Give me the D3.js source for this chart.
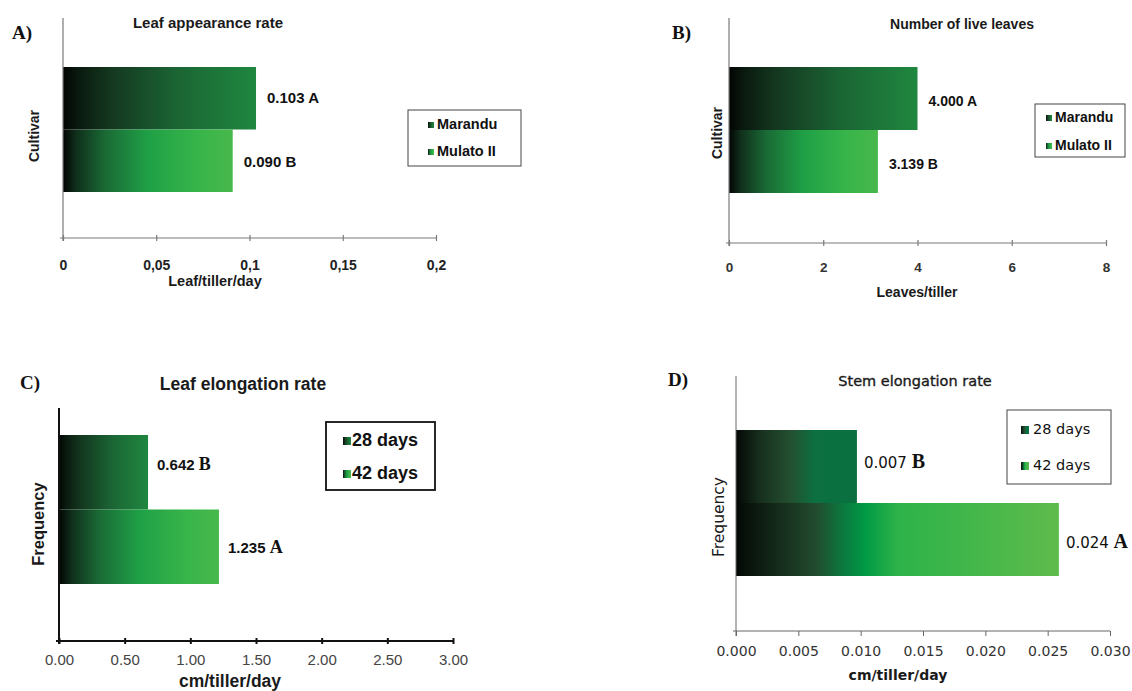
<!DOCTYPE html>
<html>
<head>
<meta charset="utf-8">
<script src="https://cdn.jsdelivr.net/npm/d3@7"></script>
<style>
  body { margin: 0; background: #fff; }
  svg { display: block; }
</style>
</head>
<body>
<div id="chart"></div>
<script>
'use strict';
// --- data ---
var cultivars = ['Marandu', 'Mulato II'];
var ages = ['28 days', '42 days'];

var appearanceRate = [0.1035, 0.091];
var appearanceLabels = [['0.103', 'A'], ['0.090', 'B']];
var appearanceTicks = [0, 0.05, 0.1, 0.15, 0.2];
var appearanceTickText = ['0', '0,05', '0,1', '0,15', '0,2'];

var liveLeaves = [4.0, 3.16];
var liveLeavesLabels = [['4.000', 'A'], ['3.139', 'B']];
var liveLeavesTicks = [0, 2, 4, 6, 8];

var leafElong = [0.678, 1.218];
var leafElongLabels = [['0.642', 'B'], ['1.235', 'A']];
var leafElongTicks = [0, 0.5, 1, 1.5, 2, 2.5, 3];

var stemElong = [0.0097, 0.0259];
var stemElongLabels = [['0.007', 'B'], ['0.024', 'A']];
var stemElongTicks = [0, 0.005, 0.01, 0.015, 0.02, 0.025, 0.03];

var width = 1132, height = 691;
var svg = d3.select('#chart').append('svg')
    .attr('width', width)
    .attr('height', height);
var defs = svg.append('defs');

// gradients: dark series and light series, two flavours (scan / office style)
function addGradient(id, stops) {
    var g = defs.append('linearGradient').attr('id', id)
        .attr('x1', '0%').attr('x2', '100%').attr('y1', '0%').attr('y2', '0%');
    stops.forEach(function (s) {
        g.append('stop').attr('offset', s[0]).attr('stop-color', s[1]);
    });
}
addGradient('darkA', [['0%', '#020403'], ['8%', '#0a1a0f'], ['25%', '#143820'], ['60%', '#1b6634'], ['100%', '#1f873f']]);
addGradient('lightA', [['0%', '#020403'], ['8%', '#10301c'], ['25%', '#1a6a35'], ['50%', '#1fa046'], ['80%', '#38b54a'], ['100%', '#48b84b']]);
addGradient('darkD', [['0%', '#040805'], ['20%', '#17301e'], ['45%', '#244f30'], ['65%', '#0c7040'], ['100%', '#0a7040']]);
addGradient('lightD', [['0%', '#040805'], ['15%', '#17301e'], ['25%', '#224c2e'], ['33%', '#0b783f'], ['40%', '#009a44'], ['50%', '#2db34a'], ['100%', '#5ebb4b']]);

var panels = [
    {
        letter: 'A)', letterX: 12, letterY: 39,
        title: 'Leaf appearance rate', titleX: 208, titleY: 24, titleSize: 15,
        series: cultivars, values: appearanceRate, labels: appearanceLabels,
        ticks: appearanceTicks, tickText: function (d, i) { return appearanceTickText[i]; },
        x0: 63, x1: 436, yTop: 18, yBottom: 238, barTop: 67, barBottom: 192,
        yTitle: 'Cultivar', yTitleX: 35, yTitleY: 136, yTitleSize: 14,
        xTitle: 'Leaf/tiller/day', xTitleX: 215, xTitleY: 282, xTitleSize: 14.5,
        font: 'Liberation Sans, Arial, sans-serif', bold: true, tickSize: 14, tickY: 265, tickColor: '#222',
        axisColor: '#7a7a7a', axisWidth: 1.2, tickUp: 3, tickDown: 3,
        labelSize: 15, labelDx: 11, letterFont: 'sans', labelSizeLetter: 15, labelDy: [1, 2],
        gradients: ['darkA', 'lightA'],
        legend: { x: 408, y: 110, w: 113, h: 56, rows: [125, 152], sw: 6, textX: 437, size: 14.5, swX: 428 }
    },
    {
        letter: 'B)', letterX: 672, letterY: 39,
        title: 'Number of live leaves', titleX: 962, titleY: 25, titleSize: 14,
        series: cultivars, values: liveLeaves, labels: liveLeavesLabels,
        ticks: liveLeavesTicks, tickText: d3.format('d'),
        x0: 729, x1: 1106, yTop: 18, yBottom: 243, barTop: 67, barBottom: 193,
        yTitle: 'Cultivar', yTitleX: 718, yTitleY: 133, yTitleSize: 14,
        xTitle: 'Leaves/tiller', xTitleX: 917, xTitleY: 293, xTitleSize: 14,
        font: 'Liberation Sans, Arial, sans-serif', bold: true, tickSize: 13.5, tickY: 267, tickColor: '#333',
        axisColor: '#7a7a7a', axisWidth: 1.2, tickUp: 3, tickDown: 3,
        labelSize: 14, labelDx: 11, letterFont: 'sans', labelSizeLetter: 14, labelDy: [3, 3],
        gradients: ['darkA', 'lightA'],
        legend: { x: 1035, y: 104, w: 90, h: 53, rows: [118, 146], sw: 6, textX: 1055, size: 14, swX: 1046 }
    },
    {
        letter: 'C)', letterX: 20, letterY: 389,
        title: 'Leaf elongation rate', titleX: 243, titleY: 385, titleSize: 17.5,
        series: ages, values: leafElong, labels: leafElongLabels,
        ticks: leafElongTicks, tickText: d3.format('.2f'),
        x0: 59, x1: 453, yTop: 408, yBottom: 641, barTop: 435, barBottom: 584,
        yTitle: 'Frequency', yTitleX: 40, yTitleY: 524, yTitleSize: 16.5,
        xTitle: 'cm/tiller/day', xTitleX: 230, xTitleY: 682, xTitleSize: 17.5,
        font: 'Liberation Sans, Arial, sans-serif', bold: true, tickSize: 15, tickBold: false, tickY: 660, tickColor: '#444',
        axisColor: '#111', axisWidth: 2, tickUp: 3, tickDown: 3,
        labelSize: 15, labelDx: 9, letterFont: 'serif', labelSizeLetter: 18, labelDy: [-6, 2],
        gradients: ['darkA', 'lightA'],
        legend: { x: 326, y: 422, w: 109, h: 68, rows: [441, 474], sw: 8, textX: 352, size: 18, swX: 343,
            font: 'Liberation Sans, Arial, sans-serif', stroke: '#111', strokeWidth: 1.8 }
    },
    {
        letter: 'D)', letterX: 668, letterY: 386,
        title: 'Stem elongation rate', titleX: 915, titleY: 382, titleSize: 14.5,
        series: ages, values: stemElong, labels: stemElongLabels,
        ticks: stemElongTicks, tickText: d3.format('.3f'),
        x0: 736, x1: 1110, yTop: 376, yBottom: 631, barTop: 430, barBottom: 576,
        yTitle: 'Frequency', yTitleX: 719, yTitleY: 517, yTitleSize: 15.5, titleBold: false,
        xTitle: 'cm/tiller/day', xTitleX: 898, xTitleY: 676, xTitleSize: 14,
        font: 'DejaVu Sans, Verdana, sans-serif', bold: false, tickSize: 14, tickY: 651, tickColor: '#333',
        axisColor: '#666', axisWidth: 1, tickUp: 0, tickDown: 5,
        labelSize: 15, labelDx: 7, letterFont: 'serif', labelSizeLetter: 20, labelDy: [-4, 3],
        gradients: ['darkD', 'lightD'],
        legend: { x: 1007, y: 410, w: 104, h: 74, rows: [430, 466], sw: 8, textX: 1033, size: 14.5, swX: 1021 }
    }
];

function drawPanel(p) {
    var g = svg.append('g').attr('class', 'panel');
    var weight = p.bold ? 'bold' : 'normal';

    var x = d3.scaleLinear()
        .domain([p.ticks[0], p.ticks[p.ticks.length - 1]])
        .range([p.x0, p.x1]);
    var y = d3.scaleBand()
        .domain(p.series)
        .range([p.barTop, p.barBottom])
        .paddingInner(0);

    // bars
    g.selectAll('rect.bar').data(p.values).enter()
        .append('rect')
        .attr('class', 'bar')
        .attr('x', x(0))
        .attr('y', function (d, i) { return y(p.series[i]); })
        .attr('width', function (d) { return x(d) - x(0); })
        .attr('height', y.bandwidth())
        .attr('fill', function (d, i) { return 'url(#' + p.gradients[i] + ')'; });

    // value labels
    var lab = g.selectAll('text.value').data(p.values).enter()
        .append('text')
        .attr('class', 'value')
        .attr('x', function (d) { return x(d) + p.labelDx; })
        .attr('y', function (d, i) {
            return y(p.series[i]) + y.bandwidth() / 2 + (p.labelDy ? p.labelDy[i] : 0);
        })
        .attr('dominant-baseline', 'middle')
        .attr('font-family', p.font)
        .attr('font-weight', p.bold ? 'bold' : 'normal')
        .attr('font-size', p.labelSize)
        .attr('fill', '#111');
    lab.append('tspan').text(function (d, i) { return p.labels[i][0] + ' '; });
    lab.append('tspan')
        .attr('font-family', p.letterFont === 'serif' ? 'Liberation Serif, Times New Roman, serif' : p.font)
        .attr('font-weight', 'bold')
        .attr('font-size', p.labelSizeLetter)
        .text(function (d, i) { return p.labels[i][1]; });

    // x axis
    var axis = g.append('g')
        .attr('transform', 'translate(0,' + p.yBottom + ')')
        .call(d3.axisBottom(x).tickValues(p.ticks).tickFormat(p.tickText).tickSizeOuter(0));
    axis.select('.domain')
        .attr('d', 'M' + (p.x0 - 3) + ',0H' + p.x1)
        .attr('stroke', p.axisColor).attr('stroke-width', p.axisWidth);
    axis.selectAll('.tick line')
        .attr('y1', -p.tickUp).attr('y2', p.tickDown)
        .attr('stroke', p.axisColor).attr('stroke-width', p.axisWidth);
    axis.selectAll('.tick text')
        .attr('y', p.tickY - p.yBottom)
        .attr('dy', '0.35em')
        .attr('font-family', p.font)
        .attr('font-weight', p.tickBold === false ? 'normal' : weight)
        .attr('font-size', p.tickSize)
        .attr('fill', p.tickColor);

    // y axis line
    g.append('line')
        .attr('x1', p.x0).attr('x2', p.x0)
        .attr('y1', p.yTop).attr('y2', p.yBottom + p.tickDown)
        .attr('stroke', p.axisColor).attr('stroke-width', p.axisWidth);

    // titles
    g.append('text')
        .attr('x', p.titleX).attr('y', p.titleY)
        .attr('text-anchor', 'middle').attr('dominant-baseline', 'middle')
        .attr('font-family', p.font)
        .attr('font-weight', p.titleBold === false ? 'normal' : 'bold')
        .attr('font-size', p.titleSize)
        .attr('fill', '#1a1a1a')
        .attr('stroke', p.titleBold === false ? '#1a1a1a' : 'none')
        .attr('stroke-width', 0.35)
        .text(p.title);

    g.append('text')
        .attr('x', p.xTitleX).attr('y', p.xTitleY)
        .attr('text-anchor', 'middle').attr('dominant-baseline', 'middle')
        .attr('font-family', p.font).attr('font-weight', 'bold')
        .attr('font-size', p.xTitleSize)
        .attr('fill', '#1a1a1a')
        .text(p.xTitle);

    g.append('text')
        .attr('transform', 'translate(' + p.yTitleX + ',' + p.yTitleY + ') rotate(-90)')
        .attr('text-anchor', 'middle').attr('dominant-baseline', 'middle')
        .attr('font-family', p.font).attr('font-weight', p.bold ? 'bold' : 'normal')
        .attr('font-size', p.yTitleSize)
        .attr('fill', '#1a1a1a')
        .text(p.yTitle);

    // panel letter
    g.append('text')
        .attr('x', p.letterX).attr('y', p.letterY)
        .attr('font-family', 'Liberation Serif, Times New Roman, serif')
        .attr('font-weight', 'bold').attr('font-size', 19)
        .attr('fill', '#111')
        .text(p.letter);

    // legend
    var L = p.legend;
    var lg = g.append('g').attr('class', 'legend');
    lg.append('rect')
        .attr('x', L.x).attr('y', L.y).attr('width', L.w).attr('height', L.h)
        .attr('fill', '#fff')
        .attr('stroke', L.stroke || '#444').attr('stroke-width', L.strokeWidth || 1);
    var rows = lg.selectAll('g.row').data(p.series).enter()
        .append('g').attr('class', 'row');
    rows.append('rect')
        .attr('x', L.swX)
        .attr('y', function (d, i) { return L.rows[i] - L.sw / 2; })
        .attr('width', L.sw).attr('height', L.sw)
        .attr('fill', function (d, i) { return 'url(#' + p.gradients[i] + ')'; });
    rows.append('text')
        .attr('x', L.textX)
        .attr('y', function (d, i) { return L.rows[i]; })
        .attr('dominant-baseline', 'middle')
        .attr('font-family', L.font || p.font)
        .attr('font-weight', p.bold ? 'bold' : 'normal')
        .attr('font-size', L.size)
        .attr('fill', '#111')
        .text(function (d) { return d; });
}

panels.forEach(drawPanel);
</script>
</body>
</html>
